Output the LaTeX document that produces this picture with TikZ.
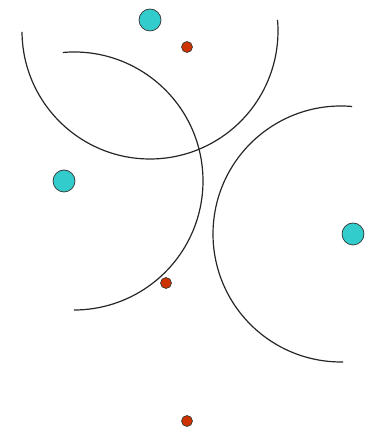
\documentclass[tikz,border=0pt]{standalone}
\definecolor{sitecol}{HTML}{33CCCC}
\definecolor{evtcol}{HTML}{CC3300}
\begin{document}
\begin{tikzpicture}[x=1pt,y=1pt,
  site/.style={circle,draw=black!80,line width=0.7pt,fill=sitecol,minimum size=22pt,inner sep=0pt},
  evt/.style={circle,draw=black!80,line width=0.6pt,fill=evtcol,minimum size=11pt,inner sep=0pt},
  arcline/.style={draw=black!85,line width=1.2pt}]
\useasboundingbox (0,0) rectangle (369,430);
% sites
\node[site] (s1) at (150,410) {};
\node[site] (s2) at (64,249) {};
\node[site] (s3) at (353,196) {};
% events
\node[evt] (e1) at (187,383) {};
\node[evt] (e2) at (166,147) {};
\node[evt] (e3) at (187,9) {};
% arcs
\draw[arcline] ([shift={(180.4:128)}]150,399) arc[start angle=180.4,end angle=365,radius=128];
\draw[arcline] ([shift={(95:129)}]74,249) arc[start angle=95,end angle=-90,radius=129];
\draw[arcline] ([shift={(85:128)}]341,196) arc[start angle=85,end angle=271,radius=128];
\end{tikzpicture}
\end{document}
